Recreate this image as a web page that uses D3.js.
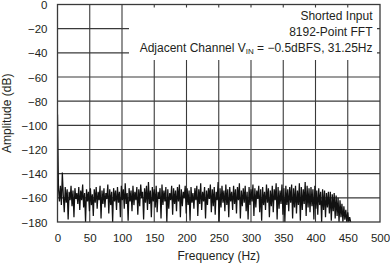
<!DOCTYPE html>
<html><head><meta charset="utf-8">
<script src="https://cdn.jsdelivr.net/npm/d3@7/dist/d3.min.js"></script>
<style>
html,body{margin:0;padding:0;background:#fff;}
svg{display:block;font-family:"Liberation Sans",Arial,Helvetica,sans-serif;}
</style></head>
<body>
<svg id="c" width="390" height="264"></svg>
<script>
// ---- data ----
const xTicks = [0,50,100,150,200,250,300,350,400,450,500];
const yTicks = [0,-20,-40,-60,-80,-100,-120,-140,-160,-180];
const annotation = ["Shorted Input","8192-Point FFT"];
const freqStep = 1.5;      // Hz between plotted bins
const dcValue = -91;       // amplitude at 0 Hz
const amplitude = [
-152,-163,-150,-166,-139,-158,-172,-151,-164,-153,-178,-155,-162,-150,-167,-154,-176,-152,-161,-156,
-165,-151,-170,-154,-162,-149,-168,-156,-180,-153,-163,-155,-171,-152,-166,-157,-175,-153,-164,-151,
-169,-155,-162,-150,-177,-154,-165,-152,-168,-156,-161,-149,-173,-153,-166,-155,-180,-152,-163,-154,
-170,-151,-164,-155,-176,-150,-162,-153,-169,-148,-165,-156,-179,-152,-163,-154,-171,-150,-166,-155,
-162,-151,-174,-153,-167,-149,-160,-155,-178,-152,-164,-150,-170,-147,-165,-154,-176,-151,-163,-153,
-168,-150,-172,-155,-161,-152,-177,-149,-166,-154,-163,-151,-180,-153,-169,-156,-162,-150,-174,-152,
-165,-154,-171,-151,-163,-149,-176,-153,-167,-155,-160,-150,-173,-152,-166,-154,-179,-151,-164,-156,
-169,-152,-162,-150,-175,-153,-165,-148,-170,-155,-163,-151,-177,-154,-166,-152,-161,-149,-172,-153,
-167,-151,-174,-155,-162,-147,-180,-152,-168,-150,-164,-154,-171,-149,-166,-153,-176,-151,-163,-155,
-170,-150,-165,-153,-173,-151,-162,-148,-177,-154,-167,-152,-164,-150,-171,-155,-178,-151,-166,-153,
-163,-149,-175,-152,-168,-154,-161,-150,-172,-153,-179,-151,-166,-155,-170,-149,-164,-152,-176,-154,
-167,-150,-172,-153,-162,-148,-178,-151,-169,-154,-165,-149,-174,-152,-180,-150,-166,-153,-171,-151,
-164,-149,-177,-152,-168,-150,-173,-154,-166,-148,-179,-151,-170,-153,-165,-147,-175,-150,-168,-152,
-172,-151,-167,-153,-178,-150,-169,-154,-174,-152,-166,-155,-180,-153,-170,-154,-176,-156,-168,-155,
-173,-155,-179,-157,-171,-156,-177,-158,-175,-160,-180,-162,-176,-165,-180,-167,-178,-170,-180,-172,
-180,-176,-180
];
const points = [[0, dcValue]].concat(amplitude.map((v,i)=>[(i+1)*freqStep, v]));

// ---- layout ----
const L=57.5, R=380, T=4.5, B=222;
const svg = d3.select("#c");
const x = d3.scaleLinear().domain([0,500]).range([L,R]);
const y = d3.scaleLinear().domain([-180,0]).range([B,T]);
const ink = "#231f20", grid = "#3a3a3a";

// gridlines
svg.append("g").selectAll("line").data(xTicks.slice(1,-1)).join("line")
  .attr("x1",d=>x(d)).attr("x2",d=>x(d)).attr("y1",T).attr("y2",B)
  .attr("stroke",grid).attr("stroke-width",1.1);
svg.append("g").selectAll("line").data(yTicks.slice(1,-1)).join("line")
  .attr("y1",d=>y(d)).attr("y2",d=>y(d)).attr("x1",L).attr("x2",R)
  .attr("stroke",grid).attr("stroke-width",1.1);

// clip + data
svg.append("clipPath").attr("id","pc").append("rect")
  .attr("x",L).attr("y",T).attr("width",R-L).attr("height",B-T);
svg.append("path").datum(points)
  .attr("clip-path","url(#pc)")
  .attr("fill","none").attr("stroke","#111").attr("stroke-width",1.25)
  .attr("stroke-linejoin","bevel")
  .attr("d", d3.line().x(d=>x(d[0])).y(d=>y(Math.max(d[1],-181))));

// annotation box
svg.append("rect").attr("x",129).attr("y",7.5).attr("width",248).attr("height",52.5).attr("fill","#fff");

// frame
svg.append("rect").attr("x",L).attr("y",T).attr("width",R-L).attr("height",B-T)
  .attr("fill","none").attr("stroke",grid).attr("stroke-width",1.3);

// annotation text
const ann = svg.append("g").attr("fill",ink).attr("font-size",12).attr("text-anchor","end");
annotation.forEach((s,i)=>ann.append("text").attr("x",372.5).attr("y",19.5+16*i).text(s));
const t3 = ann.append("text").attr("x",372.5).attr("y",51.5);
t3.append("tspan").text("Adjacent Channel V");
t3.append("tspan").attr("font-size",8).attr("dy",2.5).text("IN");
t3.append("tspan").attr("dy",-2.5).text(" = \u22120.5dBFS, 31.25Hz");

// axes labels
const xa = d3.axisBottom(x).tickValues(xTicks).tickSize(0).tickPadding(0).tickFormat(d3.format("d"));
svg.append("g").attr("transform",`translate(0,${B})`).call(xa)
  .call(g=>g.select(".domain").remove())
  .selectAll("text").attr("font-size",11.5).attr("fill",ink).attr("font-family",null)
  .attr("dy",null).attr("y",20);
const ya = d3.axisLeft(y).tickValues(yTicks).tickSize(0).tickPadding(0)
  .tickFormat(d=> d<0 ? "\u2212"+Math.abs(d) : String(d));
svg.append("g").attr("transform",`translate(${L-10},0)`).call(ya)
  .call(g=>g.select(".domain").remove())
  .selectAll("text").attr("font-size",11.5).attr("fill",ink).attr("font-family",null)
  .attr("dy","0.35em");

svg.append("text").attr("x",(L+R)/2).attr("y",260).attr("text-anchor","middle")
  .attr("font-size",12).attr("fill",ink).text("Frequency (Hz)");
svg.append("text").attr("transform",`translate(11,${(T+B)/2}) rotate(-90)`).attr("text-anchor","middle")
  .attr("font-size",12).attr("fill",ink).text("Amplitude (dB)");
</script>
</body></html>
